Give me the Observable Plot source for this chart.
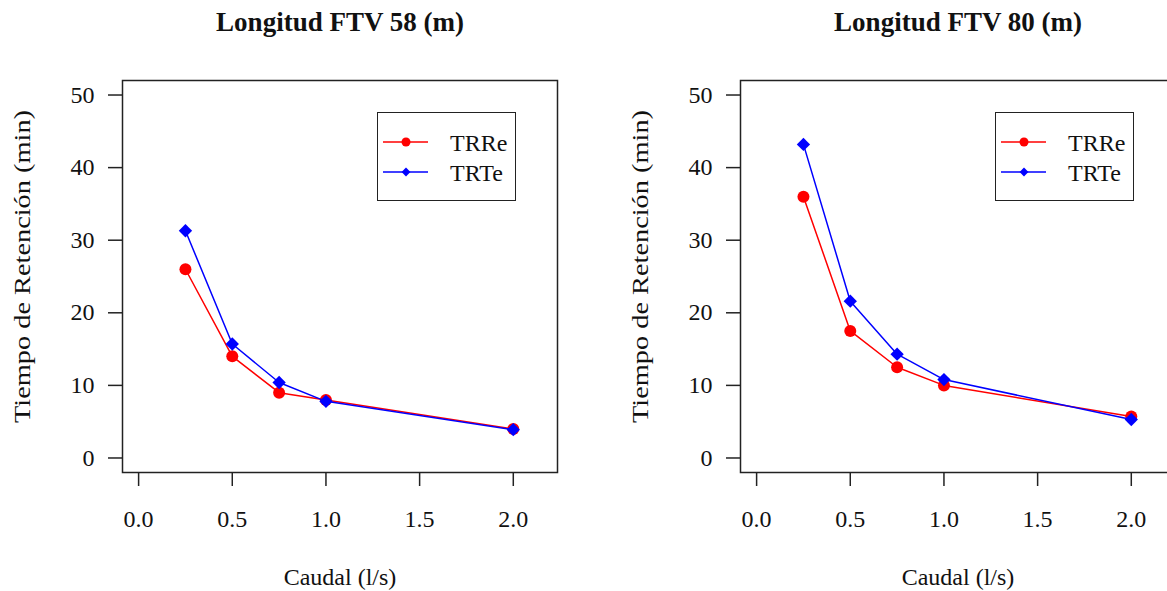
<!DOCTYPE html>
<html>
<head>
<meta charset="utf-8">
<script src="https://cdn.jsdelivr.net/npm/d3@7"></script>
<script src="https://cdn.jsdelivr.net/npm/@observablehq/plot@0.6"></script>
<style>
  html, body { margin: 0; padding: 0; background: #fff; }
  #wrap { position: relative; width: 1167px; height: 591px; overflow: hidden; background: #fff; font-family: "Liberation Serif", "Times New Roman", serif; }
  .panel { position: absolute; top: 0; height: 591px; overflow: hidden; }
  .panel > svg { max-width: none !important; width: 618px; height: 591px; }
  .legend { position: absolute; left: 377px; top: 112px; width: 139px; height: 89px; box-sizing: border-box; border: 1.5px solid #222; background: #fff; }
  .legend svg { display: block; }
</style>
</head>
<body>
<div id="wrap">
  <div id="p1" class="panel" style="left:0;width:618px"></div>
  <div id="p2" class="panel" style="left:618px;width:549px"></div>
</div>
<script>
// ---- data ----
const caudal = [0.25, 0.5, 0.75, 1.0, 2.0];
const trre58 = [26, 14, 9, 8, 4];
const trte58 = [31.3, 15.7, 10.4, 7.8, 3.9];
const trre80 = [36, 17.5, 12.5, 10, 5.7];
const trte80 = [43.2, 21.6, 14.3, 10.8, 5.3];
const xTicks = [0, 0.5, 1.0, 1.5, 2.0];
const yTicks = [0, 10, 20, 30, 40, 50];
const seriesNames = ["TRRe", "TRTe"];
const seriesColors = ["#FF0000", "#0000FF"];
const seriesSymbols = ["circle", "diamond2"];
const titles = ["Longitud FTV 58 (m)", "Longitud FTV 80 (m)"];
const xLabel = "Caudal (l/s)";
const yLabel = "Tiempo de Retención (min)";

const FONT = "Liberation Serif";

function rows(vals) { return caudal.map((c, i) => ({x: c, y: vals[i]})); }

function makePanel(title, re, te) {
  const data = [rows(re), rows(te)];
  const marks = [Plot.frame({stroke: "#222", strokeWidth: 1.5})];
  data.forEach((d, i) => {
    marks.push(Plot.line(d, {x: "x", y: "y", stroke: seriesColors[i], strokeWidth: 1.5}));
    marks.push(Plot.dot(d, {x: "x", y: "y", r: 6, fill: seriesColors[i], stroke: "none", symbol: seriesSymbols[i]}));
  });
  marks.push(
    Plot.axisX({ticks: xTicks, tickSize: 14, tickPadding: 23, tickFormat: d3.format(".1f"), stroke: "#222", strokeWidth: 1.5, fontSize: 24, label: null}),
    Plot.axisY({ticks: yTicks, tickSize: 14, tickPadding: 14, tickFormat: d3.format("d"), stroke: "#222", strokeWidth: 1.5, fontSize: 24, label: null}),
    Plot.text([title], {text: d => d, frameAnchor: "top", dy: -50, lineAnchor: "bottom", textAnchor: "middle", fontWeight: "bold", fontSize: 27}),
    Plot.text([xLabel], {text: d => d, frameAnchor: "bottom", dy: 112, lineAnchor: "bottom", textAnchor: "middle", fontSize: 24}),
    Plot.text([yLabel], {text: d => d, frameAnchor: "left", rotate: -90, dx: -93, dy: -10, lineAnchor: "bottom", textAnchor: "middle", fontSize: 24, className: "ylab"})
  );
  const svg = Plot.plot({
    width: 618,
    height: 591,
    marginLeft: 122,
    marginRight: 61,
    marginTop: 80,
    marginBottom: 119,
    x: {domain: [-0.086, 2.236]},
    y: {domain: [-2, 52]},
    style: {fontFamily: FONT, fontSize: "24px", color: "#111", background: "#fff", overflow: "visible", maxWidth: "none"},
    marks
  });
  // the reference's vertical label is drawn a little stretched along its length
  d3.select(svg).selectAll("g.ylab text").attr("textLength", 313).attr("lengthAdjust", "spacingAndGlyphs");
  return svg;
}

function makeLegend() {
  const div = document.createElement("div");
  div.className = "legend";
  const svg = d3.create("svg").attr("width", 136).attr("height", 86);
  seriesNames.forEach((name, i) => {
    const cy = 29 + i * 30;
    const g = svg.append("g");
    g.append("line").attr("x1", 5).attr("x2", 50).attr("y1", cy).attr("y2", cy)
      .attr("stroke", seriesColors[i]).attr("stroke-width", 1.5);
    const sym = d3.symbol(i === 0 ? d3.symbolCircle : d3.symbolDiamond2, i === 0 ? 64 : 50);
    g.append("path").attr("d", sym()).attr("transform", `translate(28,${cy})`).attr("fill", seriesColors[i]);
    g.append("text").attr("x", 72).attr("y", cy + 8.5).attr("font-family", FONT)
      .attr("font-size", 24).attr("fill", "#111").text(name);
  });
  div.appendChild(svg.node());
  return div;
}

const p1 = document.getElementById("p1");
const p2 = document.getElementById("p2");
p1.appendChild(makePanel(titles[0], trre58, trte58));
p1.appendChild(makeLegend());
p2.appendChild(makePanel(titles[1], trre80, trte80));
p2.appendChild(makeLegend());
</script>
</body>
</html>
